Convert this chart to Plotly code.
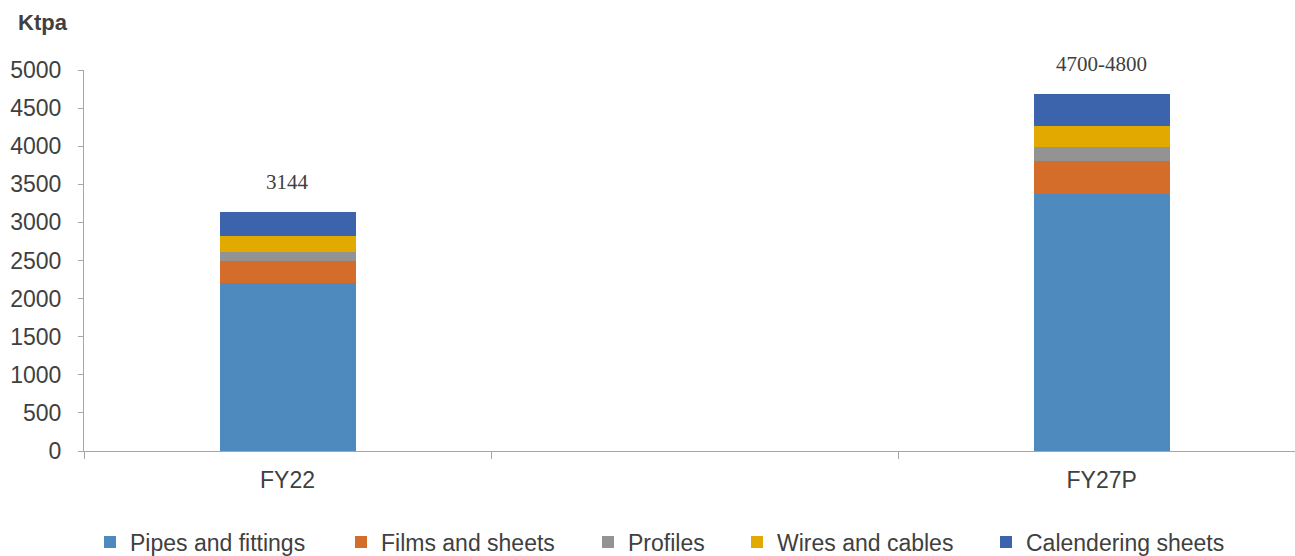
import plotly.graph_objects as go

categories = ["FY22", " ", "FY27P"]
series_names = ["Pipes and fittings", "Films and sheets", "Profiles", "Wires and cables", "Calendering sheets"]
pipes = [2201, None, 3376]
films = [290, None, 425]
profiles = [126, None, 184]
wires = [207, None, 285]
calendering = [306, None, 421]
total_labels = ["3144", "", "4700-4800"]

series_values = [pipes, films, profiles, wires, calendering]
colors = ["#4E8ABE", "#D46D2A", "#939393", "#E2AA00", "#3C64AD"]
legend_ids = ["legend", "legend2", "legend3", "legend4", "legend5"]
legend_x_px = [104, 355, 602, 751, 1000]

axis_font = dict(family="Liberation Sans, Arial, sans-serif", size=23, color="#404040")

fig = go.Figure()
for name, vals, col, lid in zip(series_names, series_values, colors, legend_ids):
    fig.add_trace(go.Bar(x=categories, y=vals, name=name, legend=lid,
                         marker=dict(color=col, line=dict(width=0))))

for i, cat in enumerate(categories):
    if total_labels[i]:
        tot = sum(v[i] for v in series_values)
        fig.add_annotation(x=cat, y=tot, text=total_labels[i], showarrow=False,
                           yanchor="middle", yshift=30,
                           font=dict(family="Liberation Serif, Times New Roman, serif", size=21, color="#404040"))

fig.add_annotation(xref="paper", yref="paper", x=-0.034, y=1.125, text="<b>Ktpa</b>", showarrow=False,
                   xanchor="center", yanchor="middle",
                   font=dict(family="Liberation Sans, Arial, sans-serif", size=22, color="#404040"))

legend_layouts = {}
for lid, px in zip(legend_ids, legend_x_px):
    legend_layouts[lid] = dict(orientation="h", xref="container", yref="container",
                               x=(px - 14) / 1295, y=1 - 542 / 556, xanchor="left", yanchor="middle",
                               font=axis_font, itemwidth=30, bgcolor="rgba(0,0,0,0)")

fig.update_layout(
    barmode="stack",
    bargap=0.666,
    width=1295, height=556,
    margin=dict(l=84, r=0, t=70, b=105),
    plot_bgcolor="white", paper_bgcolor="white",
    showlegend=True,
    xaxis=dict(type="category", categoryorder="array", categoryarray=categories,
               range=[-0.5, 2.475], showline=True, linecolor="#A6A6A6", linewidth=1,
               ticks="outside", tickson="boundaries", ticklen=7, tickcolor="#A6A6A6",
               tickfont=axis_font, showgrid=False, zeroline=False, ticklabelstandoff=8),
    yaxis=dict(range=[0, 5000], dtick=500, showline=True, linecolor="#A6A6A6", linewidth=1,
               ticks="outside", ticklen=5, tickcolor="#A6A6A6", tickfont=axis_font,
               showgrid=False, zeroline=False, ticklabelstandoff=12),
    **legend_layouts,
)

fig.write_html("out.html", config={"displayModeBar": False},
               post_script="document.body.style.margin='0';document.body.style.overflow='hidden';")
